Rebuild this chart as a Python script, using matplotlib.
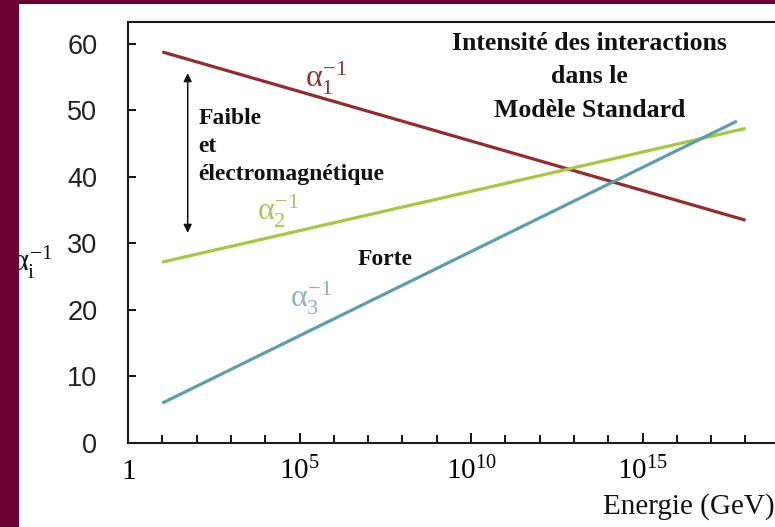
import matplotlib
matplotlib.use("Agg")
import matplotlib.pyplot as plt
from matplotlib.patches import Rectangle

# Inverse coupling constants of the Standard Model vs. energy (GeV)
energy_gev = [1e1, 1e18]
energy_gev_strong = [1e1, 10 ** 17.75]
alpha1_inv = [58.8, 33.5]
alpha2_inv = [27.2, 47.3]
alpha3_inv = [6.0, 48.4]

xtick_values = [1, 1e5, 1e10, 1e15]
xtick_labels = [r"$1$", r"$10^{5}$", r"$10^{10}$", r"$10^{15}$"]
xminor_values = [10.0 ** k for k in range(0, 19) if k % 5]
ytick_values = [0, 10, 20, 30, 40, 50, 60]

title_lines = ["Intensité des interactions", "dans le", "Modèle Standard"]
weak_em_lines = ["Faible", "et", "électromagnétique"]
strong_text = "Forte"

RED = "#962a2c"
GREEN = "#a4c83e"
BLUE = "#5c9faa"
MAROON = "#690031"

plt.rcParams["mathtext.fontset"] = "custom"
plt.rcParams["mathtext.rm"] = "Liberation Serif"
plt.rcParams["mathtext.it"] = "Liberation Serif"
plt.rcParams["mathtext.bf"] = "Liberation Serif:bold"

W, H = 775, 527
fig = plt.figure(figsize=(W / 100, H / 100), dpi=100)
fig.patch.set_facecolor("white")

# dark frame strips on the left and top
fig.patches.append(Rectangle((0, 0), 19 / W, 1, transform=fig.transFigure,
                             facecolor=MAROON, edgecolor="none", zorder=10))
fig.patches.append(Rectangle((0, 1 - 4 / H), 1, 4 / H, transform=fig.transFigure,
                             facecolor=MAROON, edgecolor="none", zorder=10))

ax = fig.add_axes([128 / W, 84 / H, 1 - 128 / W, 421 / H])
ax.set_xscale("log")
ax.set_xlim(1, 10 ** 18.86)
ax.set_ylim(0, 63.3)

ax.plot(energy_gev, alpha1_inv, color=RED, lw=2.3, solid_capstyle="butt")
ax.plot(energy_gev, alpha2_inv, color=GREEN, lw=2.3, solid_capstyle="butt")
ax.plot(energy_gev_strong, alpha3_inv, color=BLUE, lw=2.3, solid_capstyle="butt")

for side in ("left", "bottom", "top"):
    ax.spines[side].set_linewidth(1.5)
    ax.spines[side].set_color("#1a1a1a")
ax.spines["right"].set_visible(False)

ax.set_xticks(xtick_values)
ax.set_xticklabels(xtick_labels)
ax.set_xticks(xminor_values, minor=True)
ax.xaxis.set_minor_formatter(matplotlib.ticker.NullFormatter())
ax.tick_params(axis="x", which="major", direction="in", length=7.5, width=1.3,
               pad=10, labelsize=21, top=False)
ax.tick_params(axis="x", which="minor", direction="in", length=5.5, width=1.3, top=False)

ax.set_yticks(ytick_values)
ax.tick_params(axis="y", which="major", direction="in", length=6, width=1.3,
               pad=22, labelsize=19.5, right=False)
ax.yaxis.set_minor_locator(matplotlib.ticker.NullLocator())
for lab in ax.get_yticklabels():
    lab.set_fontfamily("Liberation Sans")
    lab.set_color("#222222")

# curve labels
ax.text(10 ** 5.16, 53.5, r"$\alpha_1^{-1}$", color="#9c2f30", fontsize=23,
        ha="left", va="baseline")
ax.text(10 ** 3.76, 33.5, r"$\alpha_2^{-1}$", color="#a9c752", fontsize=23,
        ha="left", va="baseline")
ax.text(10 ** 4.72, 20.3, r"$\alpha_3^{-1}$", color="#8fb2ba", fontsize=23,
        ha="left", va="baseline")

serif_bold = dict(family="Liberation Serif", weight="bold", color="#111111")
for line, y in zip(title_lines, [59.1, 54.1, 49.0]):
    ax.text(10 ** 13.45, y, line, fontsize=18.5, ha="center", va="baseline",
            **serif_bold)
for line, y in zip(weak_em_lines, [48.0, 43.8, 39.5]):
    ax.text(10 ** 2.05, y, line, fontsize=17, ha="left", va="baseline",
            **serif_bold)
ax.text(10 ** 6.68, 26.8, strong_text, fontsize=17, ha="left", va="baseline",
        **serif_bold)

# double arrow spanning the weak/electromagnetic gap
ax.annotate("", xy=(10 ** 1.74, 31.6), xytext=(10 ** 1.74, 55.6),
            arrowprops=dict(arrowstyle="<|-|>", color="#111111", lw=1.1,
                            mutation_scale=12, shrinkA=0, shrinkB=0))

fig.text(32 / W, 1 - 262 / H, r"$\alpha_{\mathrm{i}}^{-1}$", fontsize=22,
         ha="center", va="center", color="#111111")
fig.text(1.0, 1 - 507 / H, "Energie (GeV)", fontsize=21, family="Liberation Serif",
         ha="right", va="center", color="#111111")

fig.savefig("out.png", dpi=100)
